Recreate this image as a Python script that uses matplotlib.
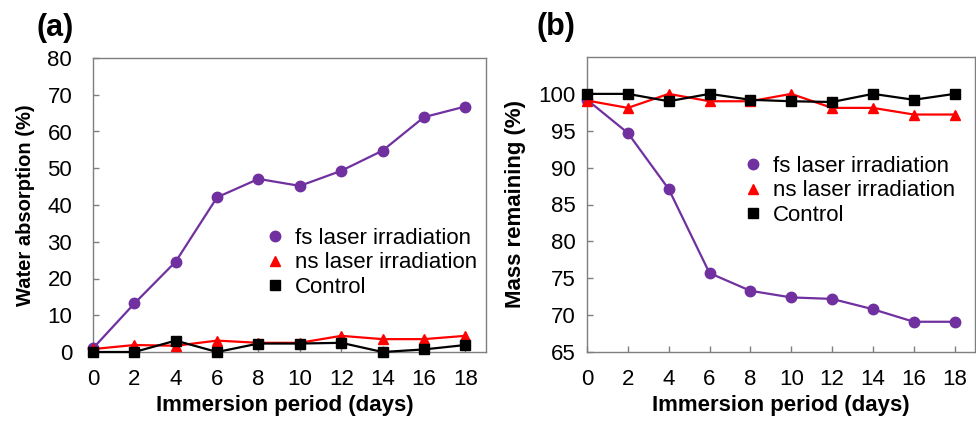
import matplotlib
matplotlib.use("Agg")
import matplotlib.pyplot as plt
from matplotlib.lines import Line2D

plt.rcParams['font.family'] = ['Liberation Sans', 'DejaVu Sans']

days = [0, 2, 4, 6, 8, 10, 12, 14, 16, 18]

# (a) Water absorption (%)
wa_fs = [1.0, 13.2, 24.6, 42.1, 47.1, 45.2, 49.3, 54.8, 63.9, 66.8]
wa_ns = [0.8, 1.9, 1.7, 3.1, 2.5, 2.5, 4.4, 3.5, 3.5, 4.4]
wa_ctrl = [0.0, 0.0, 3.1, 0.0, 2.3, 2.3, 2.5, 0.0, 0.7, 1.9]

# (b) Mass remaining (%)
mr_fs = [99.2, 94.7, 87.1, 75.7, 73.3, 72.4, 72.2, 70.8, 69.1, 69.1]
mr_ns = [99.1, 98.1, 100.0, 99.0, 99.0, 100.0, 98.1, 98.1, 97.2, 97.2]
mr_ctrl = [100.0, 100.0, 99.0, 100.0, 99.2, 99.0, 98.9, 100.0, 99.2, 100.0]

labels = ["fs laser irradiation", "ns laser irradiation", "Control"]
colors = ["#7030A0", "#FF0000", "#000000"]
markers = ["o", "^", "s"]
msizes = [7.5, 7.5, 7]

W, H = 976, 421
fig = plt.figure(figsize=(W / 100, H / 100), dpi=100)
axa = fig.add_axes([93 / W, 1 - 352 / H, (486 - 93) / W, (352 - 58) / H])
axb = fig.add_axes([587 / W, 1 - 352 / H, (975 - 587) / W, (352 - 57) / H])

def draw(ax, series, ylim, yticks, ylabel, ylabel_size, ylabel_x, ypad,
         xlabel_x, leg_xy):
    for ys, c, m, ms in zip(series, colors, markers, msizes):
        ax.plot(days, ys, color=c, lw=1.6, marker=m, ms=ms, zorder=3,
                clip_on=False)
    ax.set_xlim(0, 19)
    ax.set_ylim(*ylim)
    ax.set_xticks(days)
    ax.set_yticks(yticks)
    ax.tick_params(direction='in', length=4, width=1, colors='#7f7f7f',
                   labelcolor='black', labelsize=16)
    ax.tick_params(axis='x', pad=12)
    ax.tick_params(axis='y', pad=ypad)
    for s in ax.spines.values():
        s.set_color('#7f7f7f')
        s.set_linewidth(1)
    ax.set_xlabel("Immersion period (days)", fontsize=16, fontweight='bold',
                  va='center')
    ax.xaxis.set_label_coords(xlabel_x, -53 / 294)
    ax.set_ylabel(ylabel, fontsize=ylabel_size, fontweight='bold',
                  va='center')
    ax.yaxis.set_label_coords(ylabel_x, 0.5)
    handles = [Line2D([], [], color=c, marker=m, ms=ms, linestyle='none')
               for c, m, ms in zip(colors, markers, msizes)]
    ax.legend(handles, labels, loc='center left',
              bbox_to_anchor=(leg_xy[0] / W, 1 - leg_xy[1] / H),
              bbox_transform=fig.transFigure, frameon=False, fontsize=16,
              handlelength=1.0, handletextpad=0.4, labelspacing=0.15,
              borderpad=0, borderaxespad=0)

draw(axa, [wa_fs, wa_ns, wa_ctrl], (0, 80), range(0, 81, 10),
     "Water absorption (%)", 14.5, (25 - 93) / 393, 15, 0.487, (264, 263))
draw(axb, [mr_fs, mr_ns, mr_ctrl], (65, 105), range(65, 101, 5),
     "Mass remaining (%)", 16, (515 - 587) / 388, 8, 0.499, (742, 191))

fig.text(37 / W, 1 - 28 / H, "(a)", fontsize=22, fontweight='bold',
         va='center', ha='left')
fig.text(537 / W, 1 - 27 / H, "(b)", fontsize=22, fontweight='bold',
         va='center', ha='left')

fig.savefig("out.png", dpi=100)
